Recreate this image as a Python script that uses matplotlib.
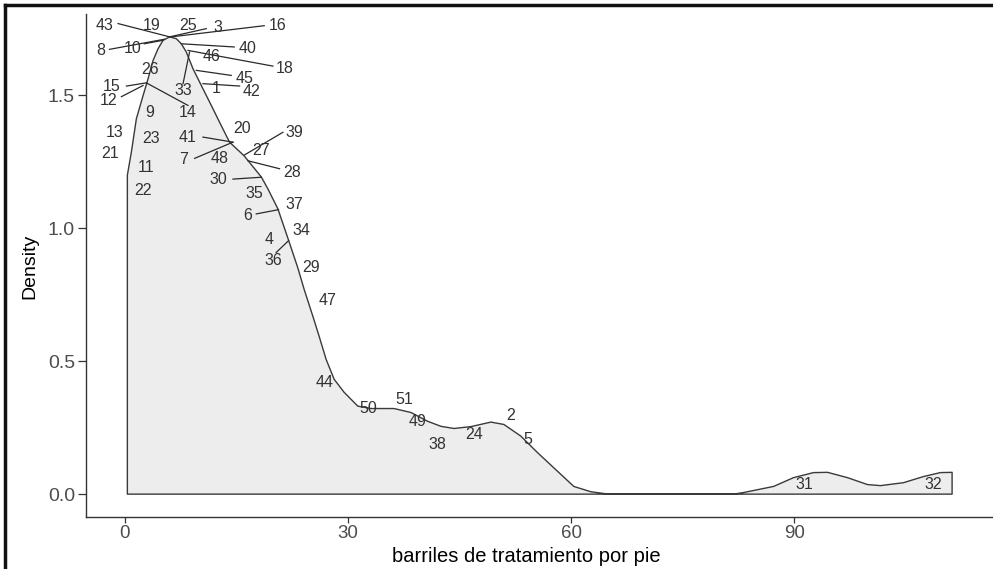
import matplotlib
matplotlib.use("Agg")
import matplotlib.pyplot as plt
from matplotlib.patches import Polygon
from matplotlib.lines import Line2D

plt.rcParams['font.family'] = ['Liberation Sans', 'DejaVu Sans']

# density curve
curve_x = [0.36, 0.36, 0.90, 1.57, 2.47, 3.14, 3.81, 4.48, 5.15, 6.04, 6.94, 7.61, 8.28,
           9.18, 10.30, 11.64, 12.98, 14.09, 16.07, 18.36, 19.25, 20.59, 22.11, 23.28,
           24.12, 25.29, 26.13, 27.07, 28.15, 29.49, 31.33, 33.11, 36.20, 38.48, 40.72,
           42.51, 44.26, 46.54, 49.22, 50.97, 53.25, 55.49, 58.17, 60.36, 62.64, 65.06,
           81.84, 83.18, 87.21, 89.89, 92.58, 94.46, 97.14, 99.83, 101.57, 104.66,
           107.34, 109.62, 111.20, 111.20]
curve_y = [0.0, 1.200, 1.287, 1.412, 1.499, 1.562, 1.631, 1.675, 1.707, 1.720, 1.713,
           1.694, 1.663, 1.600, 1.537, 1.462, 1.386, 1.324, 1.272, 1.193, 1.148, 1.073,
           0.948, 0.850, 0.770, 0.669, 0.594, 0.507, 0.432, 0.383, 0.331, 0.322, 0.322,
           0.307, 0.274, 0.255, 0.247, 0.254, 0.271, 0.262, 0.218, 0.156, 0.086, 0.029,
           0.009, 0.0, 0.0, 0.006, 0.029, 0.062, 0.081, 0.082, 0.062, 0.036, 0.032,
           0.043, 0.066, 0.081, 0.082, 0.0]

# point labels (observation ids) and their label positions
label_names = ['43', '19', '25', '3', '16', '8', '10', '40', '46', '18', '26', '45', '33',
               '15', '14', '1', '42', '12', '9', '13', '21', '23', '11', '22', '41', '20',
               '7', '39', '27', '48', '28', '30', '35', '37', '6', '4', '34', '36', '29',
               '47', '44', '50', '51', '49', '38', '24', '2', '5', '31', '32']
label_x = [-2.68, 3.58, 8.51, 12.54, 20.59, -3.22, 1.13, 16.56, 11.64, 21.48, 3.36, 16.11,
           7.84, -1.79, 8.51, 12.31, 17.01, -2.23, 3.36, -1.34, -2.01, 3.58, 2.91, 2.47,
           8.51, 15.80, 7.97, 22.82, 18.35, 12.75, 22.47, 12.54, 17.45, 22.82, 16.56,
           19.46, 23.72, 19.92, 25.06, 27.21, 26.85, 32.67, 37.58, 39.38, 42.07, 46.98,
           51.91, 54.15, 91.28, 108.72]
label_y = [1.763, 1.763, 1.763, 1.757, 1.761, 1.669, 1.678, 1.675, 1.648, 1.600, 1.597,
           1.565, 1.518, 1.533, 1.434, 1.527, 1.515, 1.480, 1.437, 1.361, 1.280, 1.339,
           1.230, 1.141, 1.343, 1.374, 1.258, 1.361, 1.292, 1.261, 1.211, 1.182, 1.129,
           1.091, 1.047, 0.959, 0.991, 0.877, 0.853, 0.729, 0.419, 0.321, 0.356, 0.274,
           0.187, 0.224, 0.296, 0.205, 0.036, 0.036]

# connector segments: label end (x0, y0) -> point on the curve (x1, y1)
seg_ids = ['43', '3', '16', '8', '10', '40', '18', '45', '33', '15', '14', '42', '12',
           '41', '7', '39', '28', '30', '6', '36']
seg_x0 = [-0.89, 10.97, 18.75, -2.05, 2.64, 14.72, 19.92, 14.32, 7.84, 0.23, 8.51, 15.44,
          -0.44, 10.52, 9.40, 21.26, 20.81, 14.55, 17.68, 20.36]
seg_y0 = [1.770, 1.751, 1.762, 1.673, 1.694, 1.682, 1.610, 1.575, 1.544, 1.535, 1.462,
          1.535, 1.495, 1.343, 1.263, 1.361, 1.224, 1.185, 1.054, 0.909]
seg_x1 = [6.04, 6.04, 6.27, 5.33, 5.15, 7.61, 8.51, 9.62, 8.72, 2.91, 2.91, 10.52, 2.47,
          14.55, 14.55, 16.11, 16.56, 18.35, 20.67, 22.01]
seg_y1 = [1.720, 1.720, 1.720, 1.711, 1.707, 1.694, 1.669, 1.594, 1.663, 1.547, 1.547,
          1.544, 1.537, 1.324, 1.324, 1.276, 1.254, 1.192, 1.070, 0.953]

x_ticks = [0, 30, 60, 90]
y_ticks = [0.0, 0.5, 1.0, 1.5]
y_tick_labels = ['0.0', '0.5', '1.0', '1.5']
x_title = 'barriles de tratamiento por pie'
y_title = 'Density'

W, H = 993, 569
fig = plt.figure(figsize=(W / 100, H / 100), dpi=100)
ax = fig.add_axes([86 / W, 1 - 517 / H, (996 - 86) / W, (517 - 14) / H])
ax.set_xlim(-5.2, 117.1)
ax.set_ylim(-0.086, 1.806)

poly = Polygon(list(zip(curve_x, curve_y)), closed=True, facecolor='#EDEDED',
               edgecolor='#3a3a3a', linewidth=1.0, zorder=2, joinstyle='round')
ax.add_patch(poly)

for x0, y0, x1, y1 in zip(seg_x0, seg_y0, seg_x1, seg_y1):
    ax.plot([x0, x1], [y0, y1], color='#2a2a2a', lw=0.9, zorder=3)

for name, lx, ly in zip(label_names, label_x, label_y):
    ax.text(lx, ly, name, ha='center', va='center', fontsize=11.5, color='#333333',
            zorder=4)

ax.set_xticks(x_ticks)
ax.set_xticklabels([str(t) for t in x_ticks])
ax.set_yticks(y_ticks)
ax.set_yticklabels(y_tick_labels)
ax.tick_params(axis='x', length=4, width=0.9, color='#333333', labelsize=13.5,
               labelcolor='#4D4D4D', pad=2)
ax.tick_params(axis='y', length=6, width=0.9, color='#333333', labelsize=14,
               labelcolor='#4D4D4D', pad=2)
for s in ['top', 'right']:
    ax.spines[s].set_visible(False)
for s in ['left', 'bottom']:
    ax.spines[s].set_linewidth(1.0)
    ax.spines[s].set_color('#333333')

fig.text((86 + 996) / 2 / W - 15 / W, 1 - 556 / H, x_title, ha='center', va='center',
         fontsize=14.5, color='black')
fig.text(30 / W, 1 - 266 / H, y_title, ha='center', va='center', rotation=90,
         fontsize=14, color='black')

# screenshot frame
fig.add_artist(Line2D([5 / W, 5 / W], [0, 1 - 5 / H], transform=fig.transFigure,
                      color='#111111', lw=2.5))
fig.add_artist(Line2D([5 / W, 1], [1 - 5 / H, 1 - 5 / H], transform=fig.transFigure,
                      color='#111111', lw=2.5))

fig.savefig('out.png', dpi=100)
